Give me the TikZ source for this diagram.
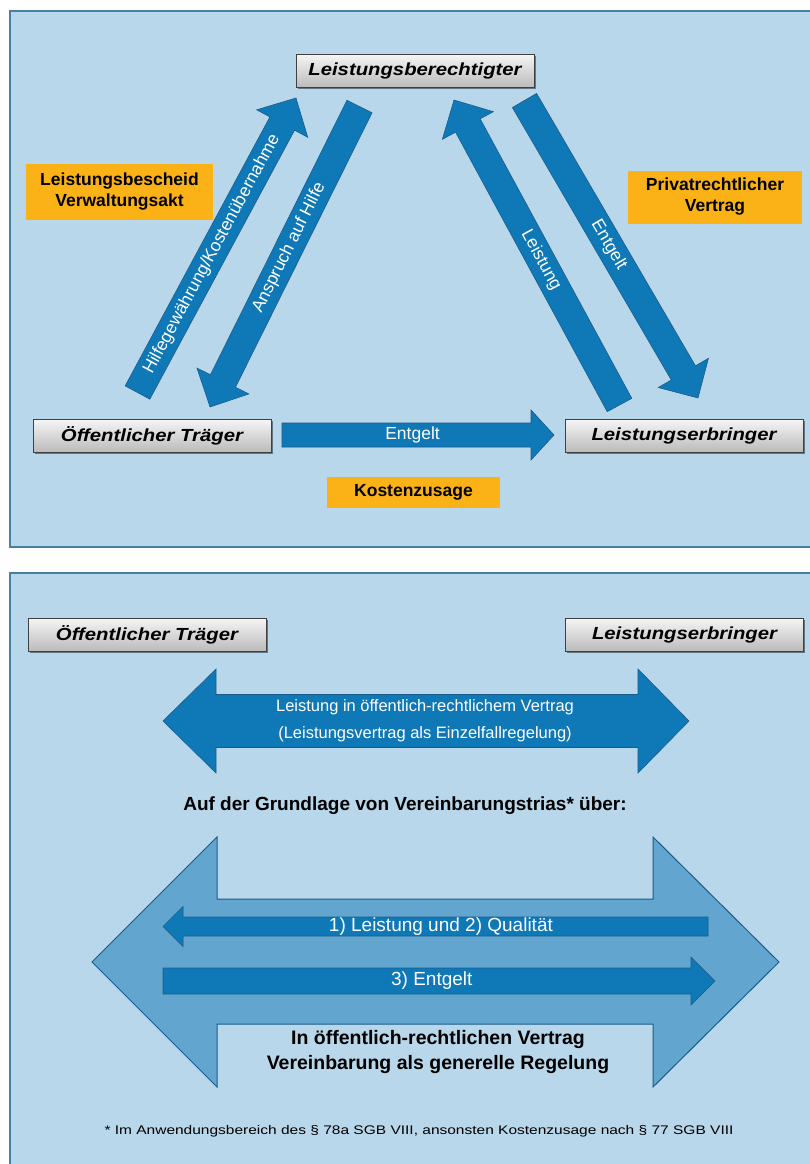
\documentclass[tikz,border=0pt]{standalone}
\usepackage{fontspec}
\setmainfont{Liberation Sans}
\newfontfamily\boxfont[FakeStretch=1.16]{Liberation Sans}
\newfontfamily\footfont[FakeStretch=1.24]{Liberation Sans}
\usetikzlibrary{calc,shadows}

\definecolor{panelbg}{RGB}{185,215,234}
\definecolor{panelline}{RGB}{72,128,160}
\definecolor{arrowblue}{RGB}{15,121,184}
\definecolor{arrowedge}{RGB}{25,92,138}
\definecolor{bigblue}{RGB}{98,166,207}
\definecolor{amber}{RGB}{251,178,22}

\tikzset{
  panel/.style={fill=panelbg, draw=panelline, line width=1.5pt},
  graybox/.style={draw=black!75, line width=1pt, top color=black!4, bottom color=black!27,
    minimum width=238pt, minimum height=33pt, inner sep=0pt,
    font=\boxfont\bfseries\itshape\fontsize{17.5}{20}\selectfont,
    drop shadow={shadow xshift=1.5pt, shadow yshift=-1.5pt, fill=black, opacity=0.45}},
  notebox/.style={fill=amber, inner sep=0pt, align=center,
    font=\bfseries\fontsize{17.5}{21}\selectfont},
  blockfill/.style={fill=arrowblue, draw=arrowedge, line width=0.6pt},
  bigfill/.style={fill=bigblue, draw=arrowedge, line width=1pt},
  arrowtext/.style={text=white, inner sep=0pt, font=\fontsize{17.5}{20}\selectfont},
}

% #1 tail coordinate, #2 tip coordinate, #3 shaft half width, #4 head half width,
% #5 head length, #6 path style, #7 text position (fraction), #8 text node name, #9 text
\newcommand{\blockarrow}[9]{%
  \path let \p1=(#1), \p2=(#2) in \pgfextra{%
    \pgfmathsetmacro\BAa{atan2((\y2)-(\y1),(\x2)-(\x1))}%
    \pgfmathsetmacro\BAl{veclen((\x2)-(\x1),(\y2)-(\y1))}%
    \pgfmathsetmacro\BAt{ifthenelse(\BAa>90,\BAa-180,ifthenelse(\BAa<-90,\BAa+180,\BAa))}%
    \xdef\BAang{\BAa}\xdef\BAlen{\BAl}\xdef\BAtang{\BAt}};
  \begin{scope}[shift={(#1)},rotate=\BAang]
    \path[#6] (0,-#3) -- ({\BAlen-#5},-#3) -- ({\BAlen-#5},-#4) -- (\BAlen,0)
      -- ({\BAlen-#5},#4) -- ({\BAlen-#5},#3) -- (0,#3) -- cycle;
    \node[arrowtext,rotate=\BAtang] (#8) at ({#7*\BAlen},0) {#9};
  \end{scope}}

\begin{document}
\begin{tikzpicture}[x=1pt,y=-1pt]
\useasboundingbox (0,0) rectangle (809,1164);
\fill[white] (0,0) rectangle (809,1164);

% ---------- top panel ----------
\draw[panel] (10,11) rectangle (815,547);

\coordinate (a1) at (137.5,392.5); \coordinate (a2) at (296,98);
\coordinate (b1) at (359.5,106.5); \coordinate (b2) at (210,407);
\coordinate (c1) at (619.5,405);   \coordinate (c2) at (454,100);
\coordinate (d1) at (524.5,100.5); \coordinate (d2) at (698,398);
\coordinate (e1) at (282,435);     \coordinate (e2) at (554,435);

\blockarrow{a1}{a2}{14}{29}{29}{blockfill}{0.47}{tA}{Hilfegewährung/Kostenübernahme}
\blockarrow{b1}{b2}{14}{29}{29}{blockfill}{0.47}{tB}{Anspruch auf Hilfe}
\blockarrow{c1}{c2}{14}{29}{29}{blockfill}{0.475}{tC}{Leistung}
\blockarrow{d1}{d2}{14}{29}{29}{blockfill}{0.485}{tD}{Entgelt}
\blockarrow{e1}{e2}{12}{25}{23}{blockfill}{0.48}{tE}{Entgelt}

\node[graybox] (lb) at (415,71) {Leistungsberechtigter};
\node[graybox] (ot) at (152,436) {Öffentlicher Träger};
\node[graybox] (le) at (684,436) {Leistungserbringer};

\node[notebox, minimum width=187pt, minimum height=56pt] (bescheid) at (119.5,192) {Leistungsbescheid\\Verwaltungsakt};
\node[notebox, minimum width=174pt, minimum height=53pt] (privat) at (715,197) {Privatrechtlicher\\Vertrag};
\node[notebox, minimum width=173pt, minimum height=31pt] (kosten) at (413.5,492.5) {Kostenzusage};

% ---------- bottom panel ----------
\draw[panel] (10,573) rectangle (815,1172);

\node[graybox] (ot2) at (147,635) {Öffentlicher Träger};
\node[graybox] (le2) at (684.5,635) {Leistungserbringer};

\path[blockfill] (163,721) -- (216,669) -- (216,694.5) -- (638,694.5) -- (638,669)
  -- (689,721) -- (638,773) -- (638,747.5) -- (216,747.5) -- (216,773) -- cycle;
\node[arrowtext, align=center, font=\fontsize{16.5}{27}\selectfont] (vtext) at (425,721)
  {Leistung in öffentlich-rechtlichem Vertrag\\(Leistungsvertrag als Einzelfallregelung)};

\node[font=\bfseries\fontsize{19}{23}\selectfont, inner sep=0pt] (grund) at (405,806)
  {Auf der Grundlage von Vereinbarungstrias* über:};

\path[bigfill] (92,962) -- (217,837) -- (217,899) -- (653,899) -- (653,837)
  -- (779,962) -- (653,1087) -- (653,1024) -- (217,1024) -- (217,1087) -- cycle;

\tikzset{arrowtext/.append style={font=\fontsize{19}{22}\selectfont}}
\coordinate (q1) at (708,926.5); \coordinate (q2) at (163,926.5);
\coordinate (r1) at (163,981);   \coordinate (r2) at (715,981);
\blockarrow{q1}{q2}{9.5}{20}{20}{blockfill}{0.49}{tQ}{1) Leistung und 2) Qualität}
\blockarrow{r1}{r2}{13}{24}{24}{blockfill}{0.487}{tR}{3) Entgelt}

\node[font=\bfseries\fontsize{19.5}{25}\selectfont, align=center, inner sep=0pt] (generell) at (438,1052)
  {In öffentlich-rechtlichen Vertrag\\Vereinbarung als generelle Regelung};

\node[font=\footfont\fontsize{12.5}{15}\selectfont, inner sep=0pt] (fn) at (419,1131)
  {* Im Anwendungsbereich des § 78a SGB VIII, ansonsten Kostenzusage nach § 77 SGB VIII};
\end{tikzpicture}
\end{document}
